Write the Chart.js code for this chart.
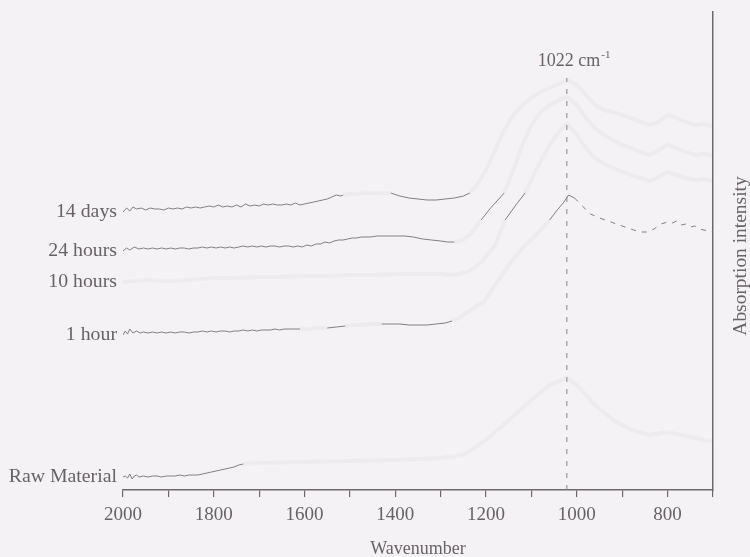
<!DOCTYPE html>
<html><head><meta charset="utf-8">
<script src="https://cdn.jsdelivr.net/npm/chart.js@4/dist/chart.umd.min.js"></script>
<style>html,body{margin:0;padding:0;background:#f4f2f4;}#c{display:block}</style>
</head><body>
<canvas id="c" width="750" height="557"></canvas>
<script>
// ---- DATA (x = wavenumber in cm-1, y = absorption intensity, arbitrary units) ----
const seriesNames = ["14 days", "24 hours", "10 hours", "1 hour", "Raw Material"];
const xTicks = [2000, 1800, 1600, 1400, 1200, 1000, 800];
const markerWavenumber = 1022;
const markerLabel = "1022 cm";

const days14X = [2000,1992,1985,1978,1970,1960,1950,1940,1930,1920,1910,1900,1890,1880,1870,1860,1850,1840,1830,1820,1810,1800,1790,1780,1770,1760,1750,1740,1730,1720,1710,1700,1690,1680,1670,1660,1650,1640,1630,1620,1610,1600,1590,1580,1570,1560,1550,1540,1530,1520,1515,1500,1450,1410,1390,1370,1350,1330,1310,1290,1270,1250,1236,1220,1200,1180,1160,1140,1120,1100,1080,1060,1040,1022,1000,980,960,940,920,900,880,860,840,820,800,780,760,740,720,700];
const days14Y = [278,282,279,283,281,282,280,282,281,281,280,282,281,282,281,283,282,283,282,283,284,283,285,283,284,283,285,283,286,284,285,284,286,285,286,285,285,286,285,287,285,286,287,288,289,290,291,293,295,294,295,296,297,297,294,292,291,290,290,291,292,294,297,305,320,340,360,375,385,392,398,402,406,410,405,395,385,380,378,375,372,368,365,368,375,372,368,365,366,364];
const days14Visible = [[2000,1515],[1410,1236]];

const hours24X = [2000,1992,1985,1975,1965,1955,1945,1935,1925,1915,1905,1895,1885,1875,1865,1855,1845,1835,1825,1815,1805,1795,1785,1775,1765,1755,1745,1735,1725,1715,1705,1695,1685,1675,1665,1655,1645,1635,1625,1615,1605,1595,1585,1575,1565,1555,1545,1535,1525,1515,1505,1495,1485,1475,1465,1455,1440,1420,1400,1380,1360,1340,1320,1300,1285,1270,1250,1230,1211,1190,1170,1160,1140,1120,1100,1080,1060,1040,1022,1000,980,960,940,920,900,880,860,840,820,800,780,760,740,720,700];
const hours24Y = [239,242,240,243,241,242,241,242,241,242,241,242,241,242,242,241,242,242,243,242,243,242,243,242,243,242,243,244,243,244,243,244,243,244,244,243,244,244,243,244,243,245,244,246,246,248,247,249,250,250,251,252,252,253,253,253,254,254,254,254,253,251,250,249,248,248,250,258,270,282,292,297,320,345,365,378,385,390,393,385,372,362,355,350,345,342,338,335,340,345,342,338,335,336,334];
const hours24Visible = [[2000,1270],[1211,1160]];

const hours10X = [2000,1950,1900,1850,1800,1750,1700,1650,1600,1550,1500,1450,1400,1350,1300,1270,1240,1210,1180,1158,1136,1114,1090,1060,1040,1022,1000,980,960,940,920,900,880,860,840,820,800,780,760,740,720,700];
const hours10Y = [208,210,209,210,212,212,213,213,214,214,215,215,216,216,216,215,218,228,245,270,284,297,320,345,358,366,355,342,332,326,322,318,315,312,309,313,318,315,312,310,311,309];
const hours10Visible = [[1158,1114]];

const hour1X = [2000,1995,1990,1985,1978,1970,1962,1955,1945,1935,1925,1915,1905,1895,1885,1875,1865,1855,1845,1835,1825,1815,1805,1795,1785,1775,1765,1755,1745,1735,1725,1715,1705,1695,1685,1675,1665,1655,1645,1630,1610,1590,1570,1550,1530,1510,1490,1470,1450,1430,1410,1390,1370,1350,1330,1310,1290,1275,1260,1240,1220,1205,1180,1150,1120,1090,1060,1045,1030,1018,1005,990,970,950,925,900,875,860,845,830,815,800,790,780,770,760,750,740,730,720,710,700];
const hour1Y = [155,159,156,161,157,159,157,158,157,158,157,158,157,158,157,158,158,157,158,158,159,158,159,158,159,159,158,159,159,160,159,160,159,160,160,160,161,160,161,161,161,161,162,162,163,164,165,165,166,166,166,166,165,165,165,166,167,169,172,178,184,188,205,225,242,255,270,279,287,295,292,285,276,272,268,264,260,258,258,261,266,268,267,269,265,266,263,264,261,260,259,258];
const hour1Visible = [[2000,1600],[1560,1500],[1430,1270],[1212,1200],[1060,700]];

const rawX = [2000,1995,1990,1985,1980,1975,1970,1965,1955,1945,1935,1925,1915,1905,1895,1885,1875,1865,1855,1845,1835,1825,1815,1805,1795,1785,1775,1765,1755,1745,1735,1700,1600,1500,1400,1300,1250,1200,1150,1100,1060,1022,1000,960,920,880,840,800,760,720,700];
const rawY = [13,14,12,16,11,14,15,13,14,13,14,14,13,14,14,14,15,14,15,15,15,16,17,18,19,20,21,22,23,25,26,27,28,29,30,32,35,50,70,90,105,112,105,85,70,60,55,58,54,50,49];
const rawVisible = [[2000,1735]];

const markerX = [markerWavenumber, markerWavenumber];
const markerY = [0, 412];

// ---- CHART ----
const seriesX = [days14X, hours24X, hours10X, hour1X, rawX];
const seriesY = [days14Y, hours24Y, hours10Y, hour1Y, rawY];
const seriesVisible = [days14Visible, hours24Visible, hours10Visible, hour1Visible, rawVisible];

const INK = '#857c84';
const GHOST = 'rgba(170,160,170,0.07)';
const TEXT = '#686266';
const FONT = '"Liberation Serif", "DejaVu Serif", serif';

function inRanges(a, b, ranges) {
  const hi = Math.max(a, b), lo = Math.min(a, b);
  return ranges.some(r => hi <= r[0] + 0.01 && lo >= r[1] - 0.01);
}

const datasets = seriesNames.map((name, i) => ({
  label: name,
  data: seriesX[i].map((x, k) => ({x: x, y: seriesY[i][k]})),
  borderColor: INK,
  borderWidth: 1,
  pointRadius: 0,
  tension: 0,
  segment: {
    borderColor: ctx => inRanges(ctx.p0.parsed.x, ctx.p1.parsed.x, seriesVisible[i]) ? INK : GHOST,
    borderWidth: ctx => inRanges(ctx.p0.parsed.x, ctx.p1.parsed.x, seriesVisible[i]) ? 1 : 4,
    borderDash: ctx => (i === 3 && ctx.p0.parsed.x < 1016) ? [5, 6] : undefined
  }
}));
datasets.push({
  label: 'marker',
  data: markerX.map((x, k) => ({x: x, y: markerY[k]})),
  borderColor: '#8a8289',
  borderWidth: 1,
  borderDash: [5, 7],
  pointRadius: 0
});

const annot = {
  id: 'annot',
  afterDatasetsDraw(chart) {
    const c = chart.ctx;
    c.save();
    c.fillStyle = TEXT;
    c.font = '18px ' + FONT;
    c.textBaseline = 'middle';
    c.textAlign = 'right';
    for (let i = 0; i < seriesNames.length; i++) {
      const p = chart.getDatasetMeta(i).data[0];
      c.save();
      c.translate(p.x - 6, p.y);
      c.scale(1.1, 1);
      c.fillText(seriesNames[i], 0, 0);
      c.restore();
    }
    // marker label
    const m = chart.getDatasetMeta(seriesNames.length).data[1];
    c.textAlign = 'left';
    c.textBaseline = 'alphabetic';
    c.font = '18px ' + FONT;
    const lx = m.x - 29, ly = m.y - 12;
    c.fillText(markerLabel, lx, ly);
    const w = c.measureText(markerLabel).width;
    c.font = '11px ' + FONT;
    c.fillText('-1', lx + w + 1, ly - 8);
    // axis titles
    const ca = chart.chartArea;
    c.font = '18px ' + FONT;
    c.textAlign = 'center';
    c.textBaseline = 'middle';
    c.fillText('Wavenumber', (ca.left + ca.right) / 2, 549);
    c.save();
    c.translate(741, 256);
    c.rotate(-Math.PI / 2);
    c.scale(1.08, 1);
    c.fillText('Absorption intensity', 0, 0);
    c.restore();
    c.restore();
  }
};

new Chart(document.getElementById('c'), {
  type: 'line',
  data: {datasets: datasets},
  options: {
    responsive: false,
    animation: false,
    layout: {padding: {left: 123, right: 37, top: 12, bottom: 0}},
    plugins: {legend: {display: false}, tooltip: {enabled: false}},
    scales: {
      x: {
        type: 'linear',
        reverse: true,
        min: 700, max: 2000,
        border: {display: true, color: '#6e686d', width: 1.5},
        grid: {display: true, drawOnChartArea: false, drawTicks: true, tickLength: 7, color: '#6e686d', lineWidth: 1.2},
        ticks: {
          stepSize: 100, autoSkip: false, maxRotation: 0, padding: 7,
          color: TEXT, font: {family: FONT, size: 19},
          callback: v => xTicks.includes(v) ? String(v) : ''
        },
        afterFit: s => { s.height = 67; }
      },
      y: {
        position: 'right',
        min: 0, max: 478,
        border: {display: true, color: '#6e686d', width: 1.5},
        grid: {display: false},
        ticks: {display: false},
        afterFit: s => { s.width = 0; }
      }
    }
  },
  plugins: [annot]
});
</script>
</body></html>
